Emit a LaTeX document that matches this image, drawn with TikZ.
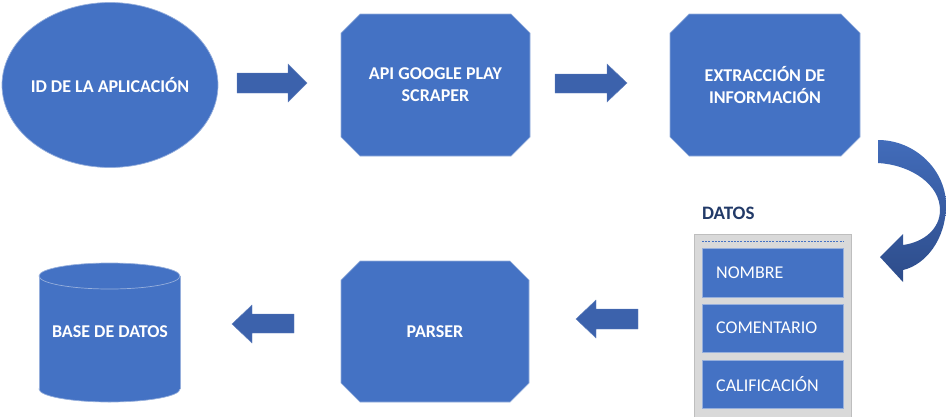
\documentclass[tikz,border=0pt]{standalone}
\usepackage{fontspec}
\setmainfont{Carlito}
\usetikzlibrary{shapes.geometric}
\definecolor{mainblue}{RGB}{68,114,196}
\definecolor{edgeblue}{RGB}{150,175,220}
\definecolor{arrowblue}{RGB}{60,98,172}
\definecolor{arrowtop}{RGB}{66,108,186}
\definecolor{arrowbot}{RGB}{45,76,138}
\definecolor{panelgrey}{RGB}{217,217,217}
\definecolor{paneledge}{RGB}{190,190,190}
\definecolor{titleblue}{RGB}{34,58,104}
\tikzset{
  x=1pt,y=-1pt,
  shapefill/.style={fill=mainblue,draw=edgeblue,line width=0.7pt},
  boxtext/.style={text=white,font=\fontsize{18}{22}\selectfont\bfseries,align=center},
  fieldbox/.style={fill=mainblue,draw=edgeblue,line width=0.7pt},
  fieldtext/.style={text=white,font=\fontsize{18}{22}\selectfont,anchor=west,inner sep=0pt},
  blockarrow/.style={fill=arrowblue,draw=arrowblue!80!white,line width=0.4pt},
}
% chamfered box: x1 y1 x2 y2, chamfer 19
\newcommand\octshape[4]{%
  \path[shapefill] ({#1+19},#2) -- ({#3-19},#2) -- (#3,{#2+19}) -- (#3,{#4-19})
    -- ({#3-19},#4) -- ({#1+19},#4) -- (#1,{#4-19}) -- (#1,{#2+19}) -- cycle;}
\begin{document}
\begin{tikzpicture}
\useasboundingbox (0,0) rectangle (946,416);
% ellipse
\node[shapefill,ellipse,minimum width=216pt,minimum height=165pt,inner sep=0pt] (id) at (110,85) {};
\node[boxtext] (idt) at (110,85) {ID DE LA APLICACIÓN};
% octagons
\octshape{341}{14}{530}{156}
\node[boxtext] (api) at (435.5,85) {API GOOGLE PLAY\\SCRAPER};
\octshape{670}{14}{860}{156}
\node[boxtext] (ext) at (765,85) {EXTRACCIÓN DE\\INFORMACIÓN};
\octshape{341}{261}{529}{402}
\node[boxtext] (par) at (435,331.5) {PARSER};
% cylinder
\fill[mainblue,draw=edgeblue,line width=0.7pt] (109.5,389) ellipse [x radius=70.5pt, y radius=13pt];
\fill[mainblue] (39,276) rectangle (180,389);
\draw[edgeblue,line width=0.7pt] (39,276) -- (39,389) (180,276) -- (180,389);
\fill[mainblue,draw=edgeblue,line width=0.7pt] (109.5,276) ellipse [x radius=70.5pt, y radius=13pt];
\node[boxtext] (db) at (110,332) {BASE DE DATOS};
% straight block arrows
\path[blockarrow] (237,73) -- (288,73) -- (288,64) -- (307,83) -- (288,102) -- (288,93) -- (237,93) -- cycle;
\path[blockarrow] (555,74) -- (607,74) -- (607,64) -- (627,83) -- (607,102) -- (607,93) -- (555,93) -- cycle;
\path[blockarrow] (638,309) -- (596,309) -- (596,300) -- (576,319) -- (596,338) -- (596,329) -- (638,329) -- cycle;
\path[blockarrow] (294,314) -- (252,314) -- (252,305) -- (232,324) -- (252,343) -- (252,333) -- (294,333) -- cycle;
% curved arrow
\shade[top color=arrowtop,bottom color=arrowbot]
  (878,140) .. controls (915,140) and (946,170) .. (946,205)
  .. controls (946,240) and (925,265) .. (903,270)
  -- (903,282) -- (880,257) -- (903,234) -- (903,245)
  .. controls (925,242) and (940,228) .. (940,210)
  .. controls (940,185) and (912,165) .. (878,163) -- cycle;
% DATOS panel
\node[text=titleblue,font=\fontsize{19}{22}\selectfont\bfseries,anchor=west,inner sep=0pt] (datos) at (702,213) {DATOS};
\fill[panelgrey,draw=paneledge,line width=0.8pt] (694,234) rectangle (851,420);
\draw[mainblue,line width=0.7pt,dash pattern=on 2pt off 1.2pt] (702,241) -- (843,241);
\draw[fieldbox] (702,248) rectangle (843,297);
\draw[fieldbox] (702,304) rectangle (843,352);
\draw[fieldbox] (702,360) rectangle (843,408);
\node[fieldtext] (nom) at (716,272.5) {NOMBRE};
\node[fieldtext] (com) at (716,328) {COMENTARIO};
\node[fieldtext] (cal) at (716,384) {CALIFICACIÓN};
\end{tikzpicture}
\end{document}
